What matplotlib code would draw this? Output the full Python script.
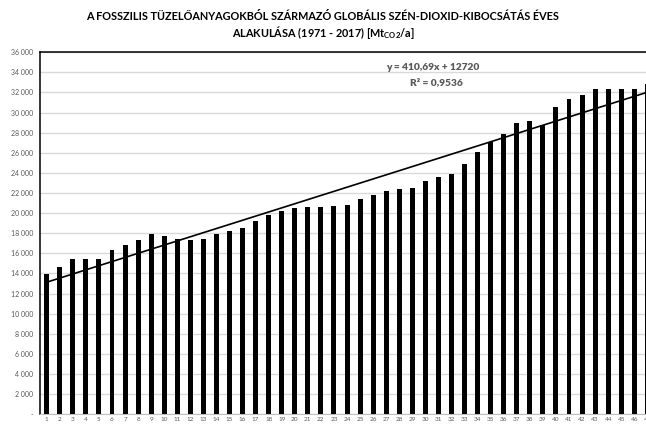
import numpy as np
import matplotlib.pyplot as plt
from matplotlib.ticker import FuncFormatter

# évek sorszáma (1971 = 1 ... 2017 = 47)
years_idx = list(range(1, 48))

# kibocsátás, Mt CO2 / év
emissions = [13950, 14620, 15440, 15410, 15470, 16310, 16870, 17330, 17900, 17700,
             17460, 17300, 17400, 17960, 18230, 18560, 19190, 19850, 20220, 20510,
             20650, 20580, 20710, 20780, 21380, 21810, 22210, 22410, 22530, 23230,
             23570, 23870, 24920, 26080, 27110, 27900, 28970, 29200, 28800, 30560,
             31360, 31750, 32320, 32380, 32380, 32350, 32840]

# lineáris trend (Excel)
slope = 410.69
intercept = 12720
r2 = 0.9536

title_font = 'Lato'
gray = '#595959'

fig = plt.figure(figsize=(6.46, 4.25), dpi=100)
ax = fig.add_axes([0.0622, 0.0252, 0.950, 0.852])

ax.bar(years_idx, emissions, width=0.38, color='black', zorder=3)

x_tr = np.array([years_idx[0], years_idx[-1]])
ax.plot(x_tr, slope * x_tr + intercept, color='black', lw=1.2, zorder=4)

ax.set_xlim(0.5, 47.5)
ax.set_ylim(0, 36000)
ax.set_yticks(range(0, 36001, 2000))
ax.yaxis.set_major_formatter(FuncFormatter(
    lambda v, p: '-' if v == 0 else f'{int(v):,}'.replace(',', ' ')))
ax.set_xticks(years_idx)
ax.set_xticklabels([str(i) for i in years_idx])

ax.grid(axis='y', color='#d9d9d9', lw=1, zorder=0)
ax.tick_params(axis='y', length=0, labelsize=5, labelcolor=gray, pad=5)
ax.tick_params(axis='x', length=0, labelsize=4.6, labelcolor=gray, pad=2)
for lab in ax.get_xticklabels() + ax.get_yticklabels():
    lab.set_fontfamily(title_font)

ax.spines['left'].set_color('black')
ax.spines['left'].set_linewidth(1.1)
ax.spines['top'].set_color('black')
ax.spines['top'].set_linewidth(1.1)
ax.spines['bottom'].set_color('#bfbfbf')
ax.spines['right'].set_visible(False)

eq_txt = f'y = {slope:.2f}x + {intercept}'.replace('.', ',')
r2_txt = f'R² = {r2:.4f}'.replace('.', ',')
ax.text(30.55, 34450, eq_txt, ha='center', va='center', fontsize=7.3,
        fontweight='heavy', color=gray, family=title_font)
ax.text(30.85, 32950, r2_txt, ha='center', va='center', fontsize=7.3,
        fontweight='heavy', color=gray, family=title_font)

fig.text(0.5, 0.962, 'A FOSSZILIS TÜZELŐANYAGOKBÓL SZÁRMAZÓ GLOBÁLIS SZÉN-DIOXID-KIBOCSÁTÁS ÉVES',
         ha='center', va='center', fontsize=7.8, fontweight='bold', family=title_font)
fig.text(0.5, 0.924, r'ALAKULÁSA (1971 - 2017) [Mt$_{\mathregular{CO2}}$/a]',
         ha='center', va='center', fontsize=7.8, fontweight='bold', family=title_font)

fig.savefig('out.png', dpi=100)
